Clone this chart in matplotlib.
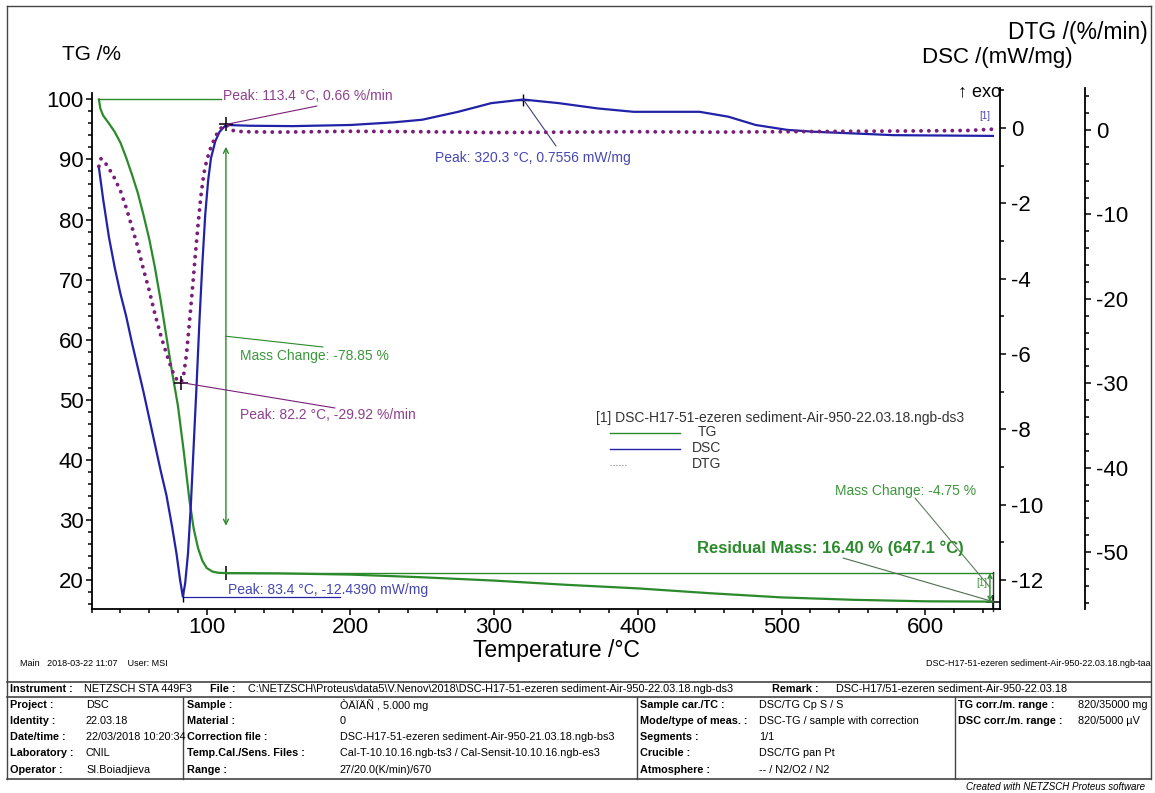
import matplotlib
matplotlib.use('Agg')
import matplotlib.pyplot as plt
from matplotlib.ticker import MultipleLocator
from matplotlib.lines import Line2D

tg_temp = [25, 26, 28, 32, 36, 40, 44, 48, 52, 56, 60, 64, 68, 72, 76, 80, 84, 88,
           91, 94, 97, 100, 104, 108, 113.4, 150, 200, 250, 300, 350, 400, 450,
           500, 550, 600, 647.1]
tg_mass = [100.0, 98.5, 97.3, 96.0, 94.6, 92.8, 90.3, 87.5, 84.5, 80.8, 76.8, 72.0,
           66.5, 60.5, 54.5, 49.0, 41.5, 33.3, 28.5, 25.3, 23.2, 22.0, 21.4, 21.2,
           21.15, 21.1, 20.9, 20.45, 19.9, 19.2, 18.6, 17.8, 17.1, 16.7, 16.45, 16.40]

dsc_temp = [25, 28, 32, 36, 40, 44, 48, 52, 56, 60, 64, 68, 72, 76, 79, 81.5, 83.4,
            85, 87, 89, 91, 93, 95, 97, 99, 101, 103, 106, 109, 113.4, 130, 160,
            200, 230, 250, 275, 298, 320.3, 345, 372, 397, 443, 463, 482, 504,
            523, 578, 647.1]
dsc_val = [-1.05, -1.9, -2.9, -3.7, -4.4, -5.0, -5.7, -6.35, -7.0, -7.7, -8.4, -9.1,
           -9.75, -10.6, -11.3, -12.0, -12.439, -12.1, -11.3, -10.0, -8.4, -6.8,
           -5.1, -3.6, -2.3, -1.4, -0.8, -0.35, -0.1, 0.08, 0.06, 0.05, 0.08, 0.15,
           0.22, 0.43, 0.66, 0.7556, 0.66, 0.52, 0.43, 0.43, 0.30, 0.08, -0.05,
           -0.10, -0.19, -0.21]

dtg_temp = [25, 26.5, 28, 31, 35, 40, 44, 48, 52, 56, 60, 64, 68, 72, 76, 79, 82.2,
            84, 86, 88, 90, 92, 94, 96, 98, 100, 103, 106, 109, 113.4, 118, 125,
            150, 200, 250, 300, 350, 400, 450, 500, 550, 600, 630, 647.1]
dtg_val = [-4.3, -3.4, -3.5, -4.3, -5.4, -7.2, -9.2, -11.5, -13.8, -16.5, -19.0,
           -21.8, -24.3, -26.5, -28.5, -29.5, -29.92, -29.0, -26.5, -22.8, -19.0,
           -15.0, -11.2, -7.8, -5.2, -3.6, -2.0, -0.8, 0.1, 0.66, -0.05, -0.2,
           -0.25, -0.15, -0.2, -0.3, -0.25, -0.2, -0.25, -0.2, -0.15, -0.1, -0.05, 0.1]

# evaluated points
dtg_peak_hi = (113.4, 0.66)
dtg_peak_lo = (82.2, -29.92)
dsc_peak_hi = (320.3, 0.7556)
dsc_peak_lo = (83.4, -12.4390)
tg_start = (25, 100.0)
tg_step = (113.4, 21.15)
tg_end = (647.1, 16.40)
mass_change1 = -78.85
mass_change2 = -4.75

W, H = 1155, 793


def px(x, y):
    return (x / W, 1 - y / H)


def fig_line(x0, y0, x1, y1, **kw):
    a, b = px(x0, y0)
    c, d = px(x1, y1)
    fig.add_artist(Line2D([a, c], [b, d], transform=fig.transFigure, **kw))


plt.rcParams['font.family'] = ['Liberation Sans', 'DejaVu Sans']
plt.rcParams['axes.unicode_minus'] = False

green = '#2b8a2b'
blue = '#2222a8'
purple = '#7a1e7a'
t_green = '#3c963c'
t_blue = '#4646b4'
t_purple = '#8e408e'

fig = plt.figure(figsize=(W / 100, H / 100), dpi=100)
l, b = px(91.7, 609)
r, t = px(1000, 88)
ax = fig.add_axes([l, b, r - l, t - b])
ax2 = ax.twinx()
ax3 = ax.twinx()

ax.set_xlim(20, 652)
ax.set_ylim(15.17, 101.9)
ax2.set_ylim(-12.77, 1.062)
ax3.set_ylim(-56.75, 4.98)

for s in ['top', 'right']:
    ax.spines[s].set_visible(False)
for a in (ax2, ax3):
    for s in ['top', 'left', 'bottom']:
        a.spines[s].set_visible(False)
for a in (ax, ax2, ax3):
    for s in a.spines.values():
        s.set_linewidth(1.3)
ax.spines['left'].set_bounds(15.17, 101.1)
ax3.spines['right'].set_position(('outward', 85 * 0.72))

ax.xaxis.set_major_locator(MultipleLocator(100))
ax.xaxis.set_minor_locator(MultipleLocator(20))
ax.yaxis.set_major_locator(MultipleLocator(10))
ax.yaxis.set_minor_locator(MultipleLocator(2))
ax2.yaxis.set_major_locator(MultipleLocator(2))
ax2.yaxis.set_minor_locator(MultipleLocator(1))
ax3.yaxis.set_major_locator(MultipleLocator(10))
ax3.yaxis.set_minor_locator(MultipleLocator(2))

ax.tick_params(which='major', direction='out', length=4, width=1.1, labelsize=16, pad=2)
ax.tick_params(which='minor', direction='out', length=3, width=1.1)
for a in (ax2, ax3):
    a.tick_params(axis='y', which='major', direction='out', length=4, width=1.1,
                  labelsize=16, pad=4)
    a.tick_params(axis='y', which='minor', direction='out', length=3, width=1.1)

# curves
ax.plot(tg_temp, tg_mass, color=green, lw=1.6, zorder=3)
ax2.plot(dsc_temp, dsc_val, color=blue, lw=1.6, zorder=3)
ax3.plot(dtg_temp, dtg_val, color=purple, lw=2.8, ls=(0, (0.01, 2.0)),
         dash_capstyle='round', zorder=2)

# TG evaluation
ax.plot([tg_start[0], 110], [tg_start[1], tg_start[1]], color=green, lw=1)
ax.plot([tg_step[0], tg_end[0]], [tg_step[1], tg_step[1]], color=green, lw=1)
top1 = tg_start[1] + 0.1 * mass_change1
bot1 = tg_step[1] - 0.1 * mass_change1
ax.annotate('', xy=(tg_step[0], bot1), xytext=(tg_step[0], top1),
            arrowprops=dict(arrowstyle='<->', color=green, lw=1, shrinkA=0, shrinkB=0,
                            mutation_scale=9))
ax.plot(*tg_step, marker='+', color='k', ms=10, mew=1.1)
mid1 = (tg_start[1] + tg_step[1]) / 2
ax.annotate('', xy=(tg_step[0], mid1), xytext=px(323, 347), textcoords='figure fraction',
            arrowprops=dict(arrowstyle='-', color=green, lw=0.8, shrinkA=0, shrinkB=0))
fig.text(*px(240, 356), f'Mass Change: {mass_change1:.2f} %', color=t_green,
         fontsize=10, va='center')

ax.annotate('', xy=(645, tg_end[1]), xytext=(645, tg_step[1]),
            arrowprops=dict(arrowstyle='<->', color=green, lw=1, shrinkA=0, shrinkB=0,
                            mutation_scale=7))
mid2 = (tg_step[1] + tg_end[1]) / 2
ax.annotate('', xy=(645, mid2), xytext=px(915, 498), textcoords='figure fraction',
            arrowprops=dict(arrowstyle='-', color='#5f7f5f', lw=0.8, shrinkA=0, shrinkB=0))
fig.text(*px(835, 491), f'Mass Change: {mass_change2:.2f} %', color=t_green,
         fontsize=10, va='center')
ax.plot([tg_end[0], tg_end[0]], [21.3, 14.9], color='#333333', lw=1, clip_on=False)
ax.plot(*tg_end, marker='+', color='k', ms=10, mew=1.1, clip_on=False)
ax.annotate('', xy=tg_end, xytext=px(843, 558), textcoords='figure fraction',
            arrowprops=dict(arrowstyle='-', color='#4f6f4f', lw=0.8, shrinkA=0, shrinkB=0))
fig.text(*px(697, 548), f'Residual Mass: {tg_end[1]:.2f} % ({tg_end[0]:.1f} °C)',
         color=green, fontsize=12, fontweight='bold', va='center')
fig.text(*px(976, 583), '[1]', color=t_green, fontsize=7, va='center')

# DTG evaluation
ax3.plot(*dtg_peak_hi, marker='+', color='k', ms=10, mew=1.1)
ax3.annotate('', xy=dtg_peak_hi, xytext=px(317, 106), textcoords='figure fraction',
             arrowprops=dict(arrowstyle='-', color=purple, lw=0.8, shrinkA=0, shrinkB=0))
fig.text(*px(223, 96), f'Peak: {dtg_peak_hi[0]:.1f} °C, {dtg_peak_hi[1]:.2f} %/min',
         color=t_purple, fontsize=10, va='center')
ax3.plot(*dtg_peak_lo, marker='+', color='k', ms=10, mew=1.1)
ax3.annotate('', xy=dtg_peak_lo, xytext=px(335, 408), textcoords='figure fraction',
             arrowprops=dict(arrowstyle='-', color=purple, lw=0.8, shrinkA=0, shrinkB=0))
fig.text(*px(240, 415), f'Peak: {dtg_peak_lo[0]:.1f} °C, {dtg_peak_lo[1]:.2f} %/min',
         color=t_purple, fontsize=10, va='center')

# DSC evaluation
ax2.plot(*dsc_peak_hi, marker='+', color='k', ms=8, mew=1)
ax2.annotate('', xy=dsc_peak_hi, xytext=px(556, 146), textcoords='figure fraction',
             arrowprops=dict(arrowstyle='-', color='#404080', lw=0.8, shrinkA=0, shrinkB=0))
fig.text(*px(435, 158), f'Peak: {dsc_peak_hi[0]:.1f} °C, {dsc_peak_hi[1]:.4f} mW/mg',
         color=t_blue, fontsize=10, va='center')
ax2.plot([dsc_peak_lo[0], 193], [dsc_peak_lo[1], dsc_peak_lo[1]], color=blue, lw=0.9)
ax2.plot(*dsc_peak_lo, marker='|', color='k', ms=7, mew=1)
fig.text(*px(228, 590), f'Peak: {dsc_peak_lo[0]:.1f} °C, {dsc_peak_lo[1]:.4f} mW/mg',
         color=t_blue, fontsize=10, va='center')
fig.text(*px(979, 116), '[1]', color=t_blue, fontsize=7, va='center')

# legend
fig.text(*px(596, 418), '[1] DSC-H17-51-ezeren sediment-Air-950-22.03.18.ngb-ds3',
         color='#333333', fontsize=10, va='center')
fig_line(610, 433, 680, 433, color=green, lw=1)
fig_line(610, 449, 680, 449, color=blue, lw=1)
fig_line(610, 465, 626, 465, color='#888888', lw=0.8, ls=':')
for yy, lab in [(432, 'TG'), (448, 'DSC'), (464, 'DTG')]:
    fig.text(*px(707, yy), lab, color='#333333', fontsize=10, va='center', ha='center')

# axis titles
fig.text(*px(62, 55), 'TG /%', fontsize=15, va='center')
fig.text(*px(1148, 33), 'DTG /(%/min)', fontsize=16.5, va='center', ha='right')
fig.text(*px(1073, 57), 'DSC /(mW/mg)', fontsize=16, va='center', ha='right')
fig.text(*px(1001, 92), '↑ exo', fontsize=13, va='center', ha='right')
fig.text(*px(556, 651), 'Temperature /°C', fontsize=16.5, va='center', ha='center')

fig.text(*px(20, 664), 'Main   2018-03-22 11:07    User: MSI', fontsize=6.5, va='center')
fig.text(*px(1150, 664), 'DSC-H17-51-ezeren sediment-Air-950-22.03.18.ngb-taa',
         fontsize=6.5, va='center', ha='right')

# frame and info table
edge = '#444444'
fig_line(7, 6, 1151, 6, color=edge, lw=1)
fig_line(7, 6, 7, 779, color=edge, lw=1)
fig_line(1151, 6, 1151, 779, color=edge, lw=1)
fig_line(7, 682, 1151, 682, color=edge, lw=1.2)
fig_line(7, 697, 1151, 697, color=edge, lw=1.2)
fig_line(7, 779, 1151, 779, color=edge, lw=1.2)
for xx in (183, 637, 955):
    fig_line(xx, 697, xx, 779, color=edge, lw=1)

fs = 7.8
row0 = [(10, 'Instrument :', True), (84, 'NETZSCH STA 449F3', False), (210, 'File :', True),
        (248, 'C:\\NETZSCH\\Proteus\\data5\\V.Nenov\\2018\\DSC-H17-51-ezeren sediment-Air-950-22.03.18.ngb-ds3', False),
        (772, 'Remark :', True), (836, 'DSC-H17/51-ezeren sediment-Air-950-22.03.18', False)]
for xx, s, bold in row0:
    fig.text(*px(xx, 689), s, fontsize=fs, va='center',
             fontweight='bold' if bold else 'normal')

row_y = [705, 721, 737, 753, 770]
col1 = ['Project :', 'Identity :', 'Date/time :', 'Laboratory :', 'Operator :']
val1 = ['DSC', '22.03.18', '22/03/2018 10:20:34', 'CNIL', 'SI.Boiadjieva']
col2 = ['Sample :', 'Material :', 'Correction file :', 'Temp.Cal./Sens. Files :', 'Range :']
val2 = ['ÒÄÏÄÑ , 5.000 mg', '0', 'DSC-H17-51-ezeren sediment-Air-950-21.03.18.ngb-bs3',
        'Cal-T-10.10.16.ngb-ts3 / Cal-Sensit-10.10.16.ngb-es3', '27/20.0(K/min)/670']
col3 = ['Sample car./TC :', 'Mode/type of meas. :', 'Segments :', 'Crucible :', 'Atmosphere :']
val3 = ['DSC/TG Cp S / S', 'DSC-TG / sample with correction', '1/1', 'DSC/TG pan Pt',
        '-- / N2/O2 / N2']
col4 = ['TG corr./m. range :', 'DSC corr./m. range :']
val4 = ['820/35000 mg', '820/5000 µV']

for labs, vals, xl, xv in [(col1, val1, 10, 86), (col2, val2, 187, 340),
                           (col3, val3, 640, 759), (col4, val4, 958, 1078)]:
    for yy, lab, val in zip(row_y, labs, vals):
        fig.text(*px(xl, yy), lab, fontsize=fs, fontweight='bold', va='center')
        fig.text(*px(xv, yy), val, fontsize=fs, va='center')

fig.text(*px(966, 787), 'Created with NETZSCH Proteus software', fontsize=7,
         style='italic', va='center')

fig.savefig('out.png', dpi=100)
